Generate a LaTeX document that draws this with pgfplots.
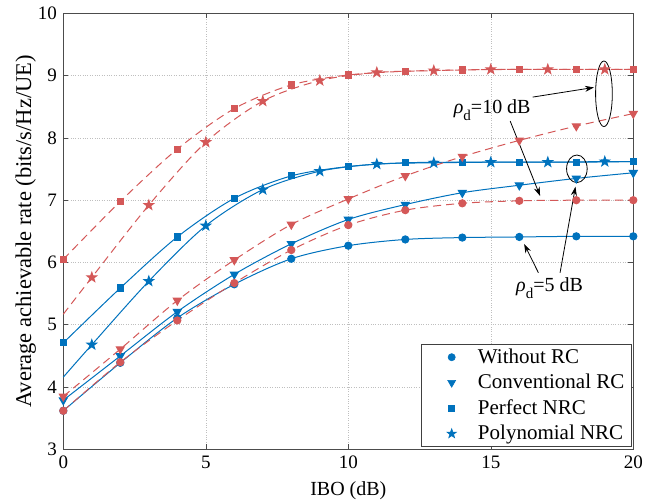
\documentclass[border=0pt]{standalone}
\usepackage{pgfplots}
\pgfplotsset{compat=1.18}
\usepackage{fontspec}
\setmainfont{Liberation Serif}
\usetikzlibrary{calc,arrows.meta}
\definecolor{mblue}{RGB}{0,114,189}
\definecolor{mred}{RGB}{212,88,88}

\pgfdeclareplotmark{fstar}{%
 \pgfpathmoveto{\pgfpointpolar{90}{\pgfplotmarksize}}%
 \pgfpathlineto{\pgfpointpolar{126}{0.4\pgfplotmarksize}}%
 \pgfpathlineto{\pgfpointpolar{162}{\pgfplotmarksize}}%
 \pgfpathlineto{\pgfpointpolar{198}{0.4\pgfplotmarksize}}%
 \pgfpathlineto{\pgfpointpolar{234}{\pgfplotmarksize}}%
 \pgfpathlineto{\pgfpointpolar{270}{0.4\pgfplotmarksize}}%
 \pgfpathlineto{\pgfpointpolar{306}{\pgfplotmarksize}}%
 \pgfpathlineto{\pgfpointpolar{342}{0.4\pgfplotmarksize}}%
 \pgfpathlineto{\pgfpointpolar{18}{\pgfplotmarksize}}%
 \pgfpathlineto{\pgfpointpolar{54}{0.4\pgfplotmarksize}}%
 \pgfpathclose\pgfusepathqfillstroke}

\tikzset{
  mcirc/.style={mark=*, mark size=3.6pt, mark options={solid}},
  mtri/.style={mark=triangle*, mark size=4.6pt, mark options={solid, rotate=180}},
  msq/.style={mark=square*, mark size=3.1pt, mark options={solid}},
  mstar/.style={mark=fstar, mark size=5pt, mark options={solid}},
}
\pgfplotsset{
  bline/.style={mblue, line width=1pt, solid, smooth, forget plot},
  rline/.style={mred, line width=1pt, dash pattern=on 8pt off 5pt, smooth, forget plot},
}

\begin{document}
\fontsize{19}{22}\selectfont
\begin{tikzpicture}
\begin{axis}[
  scale only axis,
  width=570pt, height=436.1pt,
  xmin=0, xmax=20, ymin=3, ymax=10,
  xtick={0,5,10,15,20}, ytick={3,4,5,6,7,8,9,10},
  tick align=inside, tick pos=both,
  major tick length=5pt,
  axis line style={black!70, line width=0.6pt},
  every tick/.style={black!70, line width=0.6pt},
  grid=major,
  grid style={dotted, black!25, line width=0.6pt},
  /pgf/number format/assume math mode=true,
  tick label style={font=\fontsize{19}{22}\selectfont},
  xlabel={IBO (dB)},
  ylabel={Average achievable rate (bits/s/Hz/UE)},
  xlabel style={font=\fontsize{20}{24}\selectfont},
  ylabel style={font=\fontsize{22.5}{26}\selectfont},
  ylabel shift=-11pt,
  clip=false,
  legend cell align=left,
  legend image code/.code={\path (0pt,0pt) (49pt,0pt); \draw[mark indices={2},#1] plot coordinates {(0pt,0pt) (25pt,0pt) (49pt,0pt)};},
  legend style={at={(1,0)}, anchor=south east, xshift=-1.6pt, yshift=2.7pt,
    draw=black!75, line width=0.6pt, fill=white, inner xsep=5pt,
    font=\fontsize{21}{25}\selectfont, row sep=4pt},
]
\addlegendimage{/tikz/only marks, mcirc, mblue}
\addlegendentry{Without RC}
\addlegendimage{/tikz/only marks, mtri, mblue}
\addlegendentry{Conventional RC}
\addlegendimage{/tikz/only marks, msq, mblue}
\addlegendentry{Perfect NRC}
\addlegendimage{/tikz/only marks, mstar, mblue}
\addlegendentry{Polynomial NRC}

% rho_d = 5 dB (blue, solid)
\addplot[bline, mcirc] coordinates {(0,3.62) (2,4.39) (4,5.11) (6,5.65) (8,6.06) (10,6.27) (12,6.37) (14,6.40) (16,6.41) (18,6.42) (20,6.42)};
\addplot[bline, mtri] coordinates {(0,3.79) (2,4.50) (4,5.21) (6,5.81) (8,6.30) (10,6.69) (12,6.93) (14,7.12) (16,7.24) (18,7.35) (20,7.44)};
\addplot[bline, msq] coordinates {(0,4.71) (2,5.59) (4,6.41) (6,7.03) (8,7.39) (10,7.54) (12,7.60) (14,7.61) (16,7.61) (18,7.61) (20,7.62)};
\addplot[bline, mstar, mark indices={2,3,4,5,6,7,8,9,10,11}] coordinates {(0,4.16) (1,4.68) (3,5.70) (5,6.59) (7,7.17) (9,7.465) (11,7.58) (13,7.60) (15,7.61) (17,7.61) (19,7.62) (20,7.62)};

% rho_d = 10 dB (red, dashed)
\addplot[rline, mcirc] coordinates {(0,3.62) (2,4.40) (4,5.07) (6,5.67) (8,6.20) (10,6.60) (12,6.84) (14,6.95) (16,6.99) (18,7.00) (20,7.00)};
\addplot[rline, mtri] coordinates {(0,3.85) (2,4.61) (4,5.39) (6,6.04) (8,6.61) (10,7.02) (12,7.39) (14,7.70) (16,7.96) (18,8.19) (20,8.39)};
\addplot[rline, msq] coordinates {(0,6.05) (2,6.98) (4,7.82) (6,8.47) (8,8.85) (10,9.01) (12,9.07) (14,9.09) (16,9.10) (18,9.10) (20,9.10)};
\addplot[rline, mstar, mark indices={2,3,4,5,6,7,8,9,10,11}] coordinates {(0,5.17) (1,5.76) (3,6.92) (5,7.93) (7,8.59) (9,8.92) (11,9.05) (13,9.08) (15,9.10) (17,9.10) (19,9.10) (20,9.10)};

% annotations
\draw[black, line width=0.8pt] (axis cs:18.97,8.708) ellipse [x radius=8.35pt, y radius=32.8pt];
\draw[black, line width=0.8pt] (axis cs:18.02,7.504) ellipse [x radius=10.3pt, y radius=13.8pt];
\draw[black, line width=0.8pt, -{Stealth[length=9pt,width=6pt]}] (axis cs:16.47,8.655) -- (axis cs:18.62,8.81);
\draw[black, line width=0.8pt, -{Stealth[length=9pt,width=6pt]}] (axis cs:15.68,8.27) -- (axis cs:16.73,7.067);
\draw[black, line width=0.8pt, -{Stealth[length=9pt,width=6pt]}] (axis cs:16.67,5.836) -- (axis cs:16.17,6.297);
\draw[black, line width=0.8pt, -{Stealth[length=9pt,width=6pt]}] (axis cs:17.43,5.836) -- (axis cs:17.97,7.217);
\node[anchor=base, font=\fontsize{20}{24}\selectfont, inner sep=0pt] at (axis cs:15.05,8.395) {\textit{ρ}\raisebox{-7pt}{\fontsize{15}{18}\selectfont d}=10 dB};
\node[anchor=base, font=\fontsize{20}{24}\selectfont, inner sep=0pt] at (axis cs:17.06,5.531) {\textit{ρ}\raisebox{-7pt}{\fontsize{15}{18}\selectfont d}=5 dB};
\end{axis}
\pgfresetboundingbox
\useasboundingbox ($(current axis.south west)+(-63.3pt,-53.6pt)$) rectangle ($(current axis.north east)+(20.7pt,13.3pt)$);
\end{tikzpicture}
\end{document}
